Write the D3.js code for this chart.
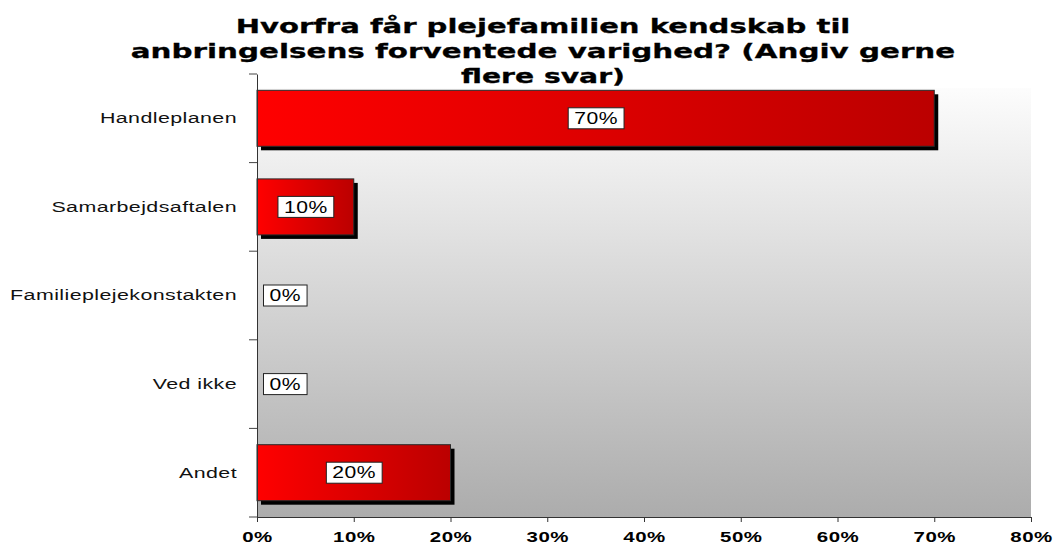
<!DOCTYPE html>
<html>
<head>
<meta charset="utf-8">
<script src="https://cdn.jsdelivr.net/npm/d3@7"></script>
<style>
  html, body { margin: 0; padding: 0; background: #fff; }
  svg { display: block; }
</style>
</head>
<body>
<svg id="chart" width="1054" height="545"></svg>
<script>
// Survey answers: where the foster family learns the expected duration of the placement
const titleLines = [
  "Hvorfra får plejefamilien kendskab til",
  "anbringelsens forventede varighed? (Angiv gerne",
  "flere svar)"
];
const titleWidths = [615, 825, 164];
const categories = ["Handleplanen", "Samarbejdsaftalen", "Familieplejekonstakten", "Ved ikke", "Andet"];
const shares = [0.70, 0.10, 0.00, 0.00, 0.20];
const xTicks = [0, 0.1, 0.2, 0.3, 0.4, 0.5, 0.6, 0.7, 0.8];

const svg = d3.select("#chart");
const plot = { left: 257, right: 1031, top: 74, bottom: 517 };

// text in this chart is set in a horizontally widened face
const STRETCH = 1.32;

const x = d3.scaleLinear().domain([0, 0.8]).range([plot.left, plot.right]);
const y = d3.scaleBand().domain(categories).range([plot.top, plot.bottom])
  .paddingInner(0.368).paddingOuter(0.184);

const defs = svg.append("defs");
const bg = defs.append("linearGradient").attr("id", "bgGrad")
  .attr("x1", 0).attr("y1", 0).attr("x2", 0).attr("y2", 1);
bg.append("stop").attr("offset", "0%").attr("stop-color", "#ffffff");
bg.append("stop").attr("offset", "100%").attr("stop-color", "#acacac");

const barGrad = defs.append("linearGradient").attr("id", "barGrad")
  .attr("x1", 0).attr("y1", 0).attr("x2", 1).attr("y2", 0);
barGrad.append("stop").attr("offset", "0%").attr("stop-color", "#ff0000");
barGrad.append("stop").attr("offset", "100%").attr("stop-color", "#bb0000");

// plot area background
svg.append("rect")
  .attr("x", plot.left).attr("y", plot.top)
  .attr("width", plot.right - plot.left).attr("height", plot.bottom - plot.top)
  .attr("fill", "url(#bgGrad)");

// title block (white backing)
svg.append("rect").attr("x", 0).attr("y", 0).attr("width", 1054).attr("height", 88).attr("fill", "#fff");

titleLines.forEach((line, i) => {
  const g = svg.append("g").attr("transform", `translate(543,${33 + i * 25})`);
  const t = g.append("text")
    .attr("text-anchor", "middle")
    .attr("font-family", "'DejaVu Sans', Verdana, sans-serif")
    .attr("font-weight", "bold")
    .attr("font-size", 20)
    .attr("fill", "#000")
    .attr("stroke", "#000").attr("stroke-width", 0.3)
    .text(line);
  const sx = titleWidths[i] / t.node().getComputedTextLength();
  t.attr("transform", `scale(${sx},1)`);
});

// bars with drop shadow
const bars = svg.append("g");
const rows = categories.map((c, i) => ({ cat: c, v: shares[i] }));

bars.selectAll("rect.shadow").data(rows.filter(d => d.v > 0)).join("rect")
  .attr("class", "shadow")
  .attr("x", x(0) + 4).attr("y", d => y(d.cat) + 4)
  .attr("width", d => x(d.v) - x(0)).attr("height", y.bandwidth())
  .attr("fill", "#000");

bars.selectAll("rect.bar").data(rows.filter(d => d.v > 0)).join("rect")
  .attr("class", "bar")
  .attr("x", x(0)).attr("y", d => y(d.cat))
  .attr("width", d => x(d.v) - x(0)).attr("height", y.bandwidth())
  .attr("fill", "url(#barGrad)")
  .attr("stroke", "#2a2a2a").attr("stroke-width", 1);

// axes
const yPad = 20;
const yAxis = d3.axisLeft(y).tickSize(0).tickPadding(yPad);
const gy = svg.append("g").attr("transform", `translate(${plot.left},0)`).call(yAxis);
gy.select(".domain").attr("stroke", "#333");
const yText = gy.selectAll("text")
  .attr("font-family", "'Liberation Sans', Arial, sans-serif")
  .attr("font-size", 15.5)
  .attr("letter-spacing", 0.3)
  .attr("fill", "#111");
// widen category labels so the longest one spans its full column
const longest = d3.max(yText.nodes(), n => n.getComputedTextLength());
const ySx = 227 / longest;
yText.attr("x", -yPad / ySx).attr("transform", `scale(${ySx},1)`);

// category separators on the value axis
const bounds = d3.range(categories.length + 1).map(i => plot.top + i * y.step());
svg.append("g").selectAll("line").data(bounds).join("line")
  .attr("x1", plot.left - 8).attr("x2", plot.left)
  .attr("y1", d => d).attr("y2", d => d)
  .attr("stroke", "#444");

const xAxis = d3.axisBottom(x).tickValues(xTicks).tickFormat(d3.format(".0%"))
  .tickSizeInner(5).tickSizeOuter(0).tickPadding(9);
const gx = svg.append("g").attr("transform", `translate(0,${plot.bottom})`).call(xAxis);
gx.select(".domain").attr("stroke", "#333");
gx.selectAll(".tick line").attr("stroke", "#333");
gx.selectAll("text")
  .attr("font-family", "'Liberation Sans', Arial, sans-serif")
  .attr("font-weight", "bold")
  .attr("font-size", 15.5)
  .attr("letter-spacing", 0.4)
  .attr("fill", "#000")
  .attr("transform", `scale(${STRETCH},1)`);

// value labels
const fmt = d3.format(".0%");
rows.forEach(d => {
  const t0 = svg.append("g");
  const t = t0.append("text")
    .attr("font-family", "'Liberation Sans', Arial, sans-serif")
    .attr("font-size", 16)
    .attr("letter-spacing", 0.4)
    .attr("text-anchor", "middle").attr("dy", "0.36em").attr("fill", "#000")
    .attr("transform", `scale(${STRETCH},1)`)
    .text(fmt(d.v));
  const w = t.node().getComputedTextLength() * STRETCH + 12;
  let cx = (x(0) + x(d.v)) / 2;
  cx = Math.max(cx, x(0) + 6 + w / 2);
  const cy = y(d.cat) + y.bandwidth() / 2;
  t0.attr("transform", `translate(${cx + 0.5},${cy})`);
  t0.insert("rect", "text")
    .attr("x", -w / 2).attr("y", -10.5)
    .attr("width", w).attr("height", 21)
    .attr("fill", "#fff").attr("stroke", "#222").attr("stroke-width", 1);
});
</script>
</body>
</html>
